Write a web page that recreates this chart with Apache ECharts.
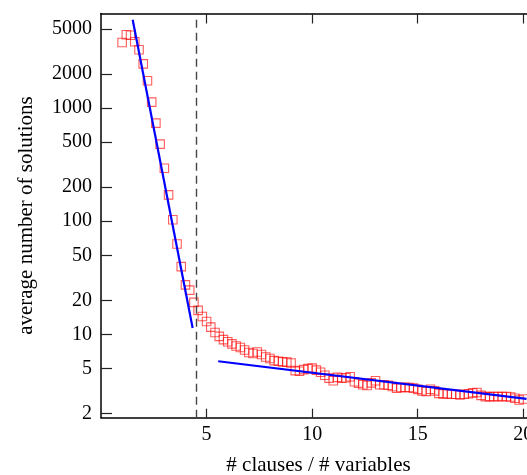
<!DOCTYPE html>
<html>
<head>
<meta charset="utf-8">
<script src="https://cdn.jsdelivr.net/npm/echarts@6/dist/echarts.min.js"></script>
<style>
  html, body { margin: 0; padding: 0; background: #fff; }
  #chart { width: 527px; height: 475px; }
</style>
</head>
<body>
<div id="chart"></div>
<script>
// Ratio of clauses to variables (x) for each measured point
const ratios = [
  1.0, 1.2, 1.4, 1.6, 1.8, 2.0, 2.2, 2.4, 2.6, 2.8,
  3.0, 3.2, 3.4, 3.6, 3.8, 4.0, 4.2, 4.4, 4.6, 4.8,
  5.0, 5.2, 5.4, 5.6, 5.8, 6.0, 6.2, 6.4, 6.6, 6.8,
  7.0, 7.2, 7.4, 7.6, 7.8, 8.0, 8.2, 8.4, 8.6, 8.8,
  9.0, 9.2, 9.4, 9.6, 9.8, 10.0, 10.2, 10.4, 10.6, 10.8,
  11.0, 11.2, 11.4, 11.6, 11.8, 12.0, 12.2, 12.4, 12.6, 12.8,
  13.0, 13.2, 13.4, 13.6, 13.8, 14.0, 14.2, 14.4, 14.6, 14.8,
  15.0, 15.2, 15.4, 15.6, 15.8, 16.0, 16.2, 16.4, 16.6, 16.8,
  17.0, 17.2, 17.4, 17.6, 17.8, 18.0, 18.2, 18.4, 18.6, 18.8,
  19.0, 19.2, 19.4, 19.6, 19.8, 20.0
];

// Average number of solutions measured at each ratio
const avgSolutions = [
  3800, 4450, 4400, 3850, 3275, 2460, 1741, 1128, 736, 480,
  294, 171, 103, 63, 39.7, 27.4, 24.6, 19.2, 16.3, 14.4,
  13.0, 11.6, 10.4, 9.6, 9.0, 8.6, 8.25, 7.9, 7.67, 7.29,
  6.92, 6.78, 7.0, 6.64, 6.31, 6.12, 5.87, 5.79, 5.72, 5.69,
  5.58, 4.78, 4.73, 4.88, 4.98, 5.03, 4.83, 4.63, 4.36, 4.11,
  3.89, 4.17, 4.10, 4.14, 4.22, 3.81, 3.71, 3.59, 3.53, 3.73,
  3.89, 3.59, 3.59, 3.55, 3.46, 3.35, 3.39, 3.40, 3.39, 3.35,
  3.27, 3.17, 3.14, 3.28, 3.17, 3.01, 2.98, 2.98, 2.96, 2.96,
  2.92, 2.96, 2.99, 3.04, 3.07, 2.89, 2.82, 2.82, 2.82, 2.83,
  2.82, 2.83, 2.80, 2.73, 2.63, 2.69
];

// Fitted trend below the threshold (end points of the straight fit)
const fitLowX = [1.5, 4.34];
const fitLowY = [6030, 11.4];

// Fitted trend above the threshold
const fitHighX = [5.55, 20.15];
const fitHighY = [5.79, 2.69];

// Threshold ratio marked by the dashed line
const threshold = 4.5;

// Tick values
const xTicks = [5, 10, 15, 20];
const yTicks = [2, 5, 10, 20, 50, 100, 200, 500, 1000, 2000, 5000];

const FONT = '"Liberation Serif", "DejaVu Serif", serif';
const zip = (xs, ys) => xs.map((x, i) => [x, ys[i]]);

const chart = echarts.init(document.getElementById('chart'), null, { renderer: 'canvas' });

const axisLine = { show: true, onZero: false, lineStyle: { color: '#000', width: 1.5 } };
const tickStyle = { color: '#222', width: 1.2 };

chart.setOption({
  animation: false,
  backgroundColor: '#fff',
  grid: {
    left: 101, top: 13.5, right: -9, bottom: 57.3,
    containLabel: false, outerBoundsMode: 'none'
  },
  xAxis: [
    {
      type: 'value', position: 'bottom', min: 0, max: 20.6, interval: 5,
      axisLine: axisLine,
      axisTick: { show: true, inside: true, length: 9, lineStyle: tickStyle, customValues: xTicks },
      axisLabel: {
        customValues: xTicks, color: '#000', fontFamily: FONT, fontSize: 20, margin: 7,
        formatter: v => String(v)
      },
      splitLine: { show: false },
      name: '# clauses / # variables', nameLocation: 'middle', nameGap: 37,
      nameTextStyle: { color: '#000', fontFamily: FONT, fontSize: 21 }
    },
    {
      type: 'value', position: 'top', min: 0, max: 20.6, interval: 5,
      axisLine: axisLine,
      axisTick: { show: true, inside: true, length: 10, lineStyle: tickStyle, customValues: xTicks },
      axisLabel: { show: false },
      splitLine: { show: false }
    }
  ],
  yAxis: [
    {
      type: 'log', logBase: 10, position: 'left', min: 1.836, max: 6850,
      axisLine: axisLine,
      axisTick: { show: true, inside: true, length: 11, lineStyle: tickStyle, customValues: yTicks },
      axisLabel: {
        customValues: yTicks, color: '#000', fontFamily: FONT, fontSize: 20, margin: 9,
        formatter: v => String(v)
      },
      minorTick: { show: false },
      splitLine: { show: false },
      name: 'average number of solutions', nameLocation: 'middle', nameGap: 64, nameRotate: 90,
      nameTextStyle: { color: '#000', fontFamily: FONT, fontSize: 21 }
    },
    {
      type: 'log', logBase: 10, position: 'right', min: 1.836, max: 6850,
      axisLine: axisLine,
      axisTick: { show: true, inside: true, length: 8, lineStyle: tickStyle, customValues: yTicks },
      axisLabel: { show: false },
      splitLine: { show: false }
    }
  ],
  series: [
    {
      name: 'measured',
      type: 'scatter',
      xAxisIndex: 0, yAxisIndex: 0,
      symbol: 'rect', symbolSize: 8.5,
      itemStyle: { color: 'rgba(255,255,255,0)', borderColor: 'rgba(255,0,0,0.8)', borderWidth: 1.1 },
      data: zip(ratios, avgSolutions),
      markLine: {
        silent: true, symbol: 'none', animation: false,
        label: { show: false },
        lineStyle: { color: '#444', width: 1.4, type: [8, 5] },
        data: [{ xAxis: threshold }]
      },
      z: 2
    },
    {
      name: 'fit below',
      type: 'line',
      xAxisIndex: 0, yAxisIndex: 0,
      showSymbol: false, symbol: 'none',
      lineStyle: { color: '#0000ff', width: 2.2 },
      data: zip(fitLowX, fitLowY),
      z: 3
    },
    {
      name: 'fit above',
      type: 'line',
      xAxisIndex: 0, yAxisIndex: 0,
      showSymbol: false, symbol: 'none',
      lineStyle: { color: '#0000ff', width: 2.2 },
      data: zip(fitHighX, fitHighY),
      z: 3
    }
  ]
});
</script>
</body>
</html>
